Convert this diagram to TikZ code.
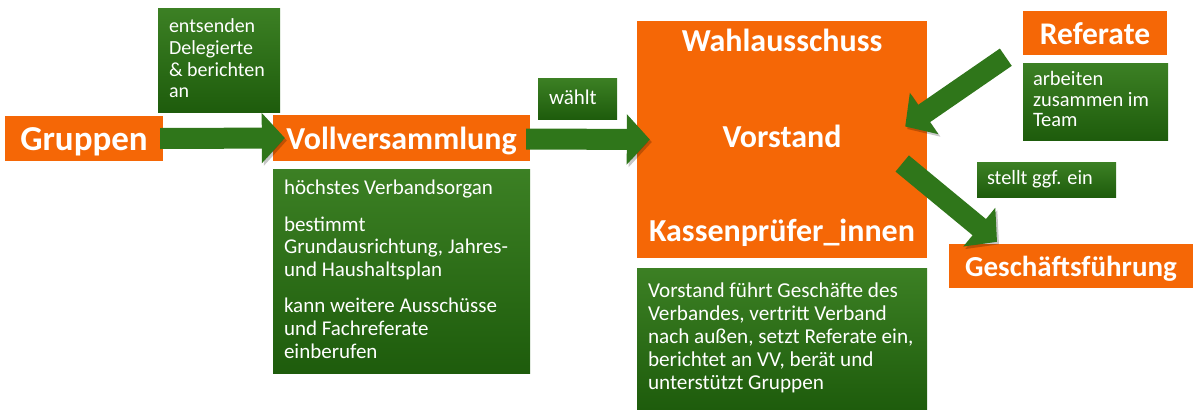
\documentclass[tikz,border=0pt]{standalone}
\usepackage{fontspec}
\setmainfont{Carlito}
\usetikzlibrary{arrows.meta,calc}
\definecolor{org}{RGB}{245,103,6}
\definecolor{garr}{RGB}{47,118,26}
\definecolor{gtop}{RGB}{60,128,36}
\definecolor{gbot}{RGB}{30,92,12}
\newcommand{\txtlines}[1]{\begin{tabular}[t]{@{}l@{}}#1\end{tabular}}
\begin{document}
\begin{tikzpicture}[x=1pt,y=-1pt,
  obox/.style={fill=org, inner sep=0pt, draw=none},
  otext/.style={anchor=base, inner sep=0pt, text=white, font=\bfseries\fontsize{32}{36}\selectfont},
  gbox/.style={top color=gtop, bottom color=gbot, inner sep=0pt, draw=none},
  gtext/.style={anchor=base west, inner sep=0pt, text=white},
  bigarrow/.style={draw=garr, line width=21pt, -{Triangle[width=49pt,length=23pt]},
    preaction={draw=black, opacity=0.22, transform canvas={shift={(2pt,-2.5pt)}}}}]
\useasboundingbox (0,0) rectangle (1200,416);

% orange boxes
\node[obox, minimum width=158pt, minimum height=45pt] (grp) at (84,138.5) {};
\node[otext, font=\bfseries\fontsize{35}{40}\selectfont] (grpt) at ($(grp.center)+(0,12)$) {Gruppen};
\node[obox, minimum width=257pt, minimum height=46pt] (vv) at (401.5,138) {};
\node[otext] (vvt) at ($(vv.center)+(0,11)$) {Vollversammlung};
\node[obox, minimum width=290pt, minimum height=237pt] (vor) at (782,139.5) {};
\node[otext] (wahl) at ($(vor.north)+(0,31)$) {Wahlausschuss};
\node[otext] (vst) at ($(vor.north)+(0,127)$) {Vorstand};
\node[otext] (kas) at ($(vor.north)+(0,221)$) {Kassenprüfer\_innen};
\node[obox, minimum width=144pt, minimum height=44pt] (ref) at (1095,33) {};
\node[otext, font=\bfseries\fontsize{31.5}{36}\selectfont] (reft) at ($(ref.center)+(0,11)$) {Referate};
\node[obox, minimum width=244pt, minimum height=44pt] (gf) at (1071,266) {};
\node[otext, font=\bfseries\fontsize{29}{34}\selectfont] (gft) at ($(gf.center)+(0,10.5)$) {Geschäftsführung};

% green boxes
\node[gbox, minimum width=122pt, minimum height=104pt] (ent) at (219,60) {};
\node[gtext, font=\fontsize{20}{21.7}\selectfont] (entt) at ($(ent.north west)+(11,25)$)
  {\txtlines{entsenden\\Delegierte\\\& berichten\\an}};
\node[gbox, minimum width=257pt, minimum height=204pt] (vvd) at (401.5,271) {};
\node[gtext, font=\fontsize{21}{22.7}\selectfont] (vvdt) at ($(vvd.north west)+(11,26)$)
  {\txtlines{höchstes Verbandsorgan\\[13.5pt]bestimmt\\Grundausrichtung, Jahres-\\und Haushaltsplan\\[13.5pt]kann weitere Ausschüsse\\und Fachreferate\\einberufen}};
\node[gbox, minimum width=79pt, minimum height=41pt] (wa) at (577.5,98.5) {};
\node[gtext, font=\fontsize{21}{22}\selectfont] (wat) at ($(wa.north west)+(11,27)$) {wählt};
\node[gbox, minimum width=290pt, minimum height=141pt] (vord) at (782,338.5) {};
\node[gtext, font=\fontsize{21.2}{23}\selectfont] (vordt) at ($(vord.north west)+(11,30)$)
  {\txtlines{Vorstand führt Geschäfte des\\Verbandes, vertritt Verband\\nach außen, setzt Referate ein,\\berichtet an VV, berät und\\unterstützt Gruppen}};
\node[gbox, minimum width=145pt, minimum height=77pt] (arb) at (1095.5,101.5) {};
\node[gtext, font=\fontsize{20.5}{20.3}\selectfont] (arbt) at ($(arb.north west)+(10,23)$)
  {\txtlines{arbeiten\\zusammen im\\Team}};
\node[gbox, minimum width=139pt, minimum height=35pt] (st) at (1046.5,179.5) {};
\node[gtext, font=\fontsize{20.3}{22}\selectfont] (stt) at ($(st.north west)+(10,23)$) {stellt ggf. ein};

% arrows
\draw[bigarrow] ($(grp.east)+(-3,0)$) -- ($(vv.west)+(12,0)$);
\draw[bigarrow] ($(vv.east)+(-4,1)$) -- ($(vor.west)+(13,0)$);
\draw[bigarrow] ($(ref.south west)+(-17,2)$) -- ($(vor.east)+(-22,-13)$);
\draw[bigarrow] ($(vor.east)+(-25,24)$) -- ($(gf.north)+(-74,-2)$);
\end{tikzpicture}
\end{document}
